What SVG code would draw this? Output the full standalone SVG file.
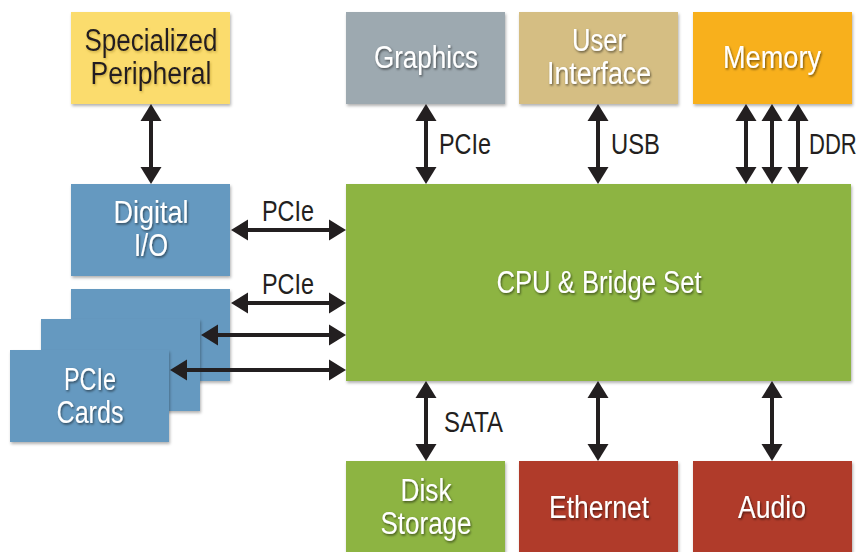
<svg xmlns="http://www.w3.org/2000/svg" width="861" height="552" viewBox="0 0 861 552">
<defs>
<filter id="bs" x="-10%" y="-10%" width="125%" height="130%">
<feDropShadow dx="1" dy="2" stdDeviation="1.5" flood-color="#000" flood-opacity="0.3"/>
</filter>
<filter id="ts" x="-10%" y="-20%" width="120%" height="150%">
<feDropShadow dx="1" dy="1.5" stdDeviation="1.2" flood-color="#000" flood-opacity="0.55"/>
</filter>
<filter id="tsy" x="-10%" y="-20%" width="120%" height="150%">
<feDropShadow dx="1" dy="1.5" stdDeviation="1.2" flood-color="#a08020" flood-opacity="0.5"/>
</filter>
<marker id="ah" markerUnits="userSpaceOnUse" markerWidth="18" markerHeight="22" refX="5" refY="11" orient="auto-start-reverse">
<path d="M0,0.5 L17,11 L0,21.5 z" fill="#231f20"/>
</marker>
<style>
.box{filter:url(#bs)}
.t{font-family:"Liberation Sans",Arial,sans-serif;font-size:31px;fill:#fff;text-anchor:middle;filter:url(#ts)}
.td{font-family:"Liberation Sans",Arial,sans-serif;font-size:31px;fill:#231f20;text-anchor:middle;filter:url(#tsy)}
.lbl{font-family:"Liberation Sans",Arial,sans-serif;font-size:29px;fill:#231f20}
.ar{stroke:#231f20;stroke-width:4;fill:none;marker-start:url(#ah);marker-end:url(#ah)}
</style>
</defs>
<rect width="861" height="552" fill="#fff"/>

<g id="specialized">
<rect class="box" x="71" y="12" width="159" height="92" fill="#fbdc6d"/>
<text class="td" x="151" y="51" textLength="133" lengthAdjust="spacingAndGlyphs">Specialized</text>
<text class="td" x="151" y="84" textLength="121" lengthAdjust="spacingAndGlyphs">Peripheral</text>
</g>
<g id="graphics">
<rect class="box" x="346" y="12" width="159" height="92" fill="#9da9b0"/>
<text class="t" x="426" y="68" textLength="104" lengthAdjust="spacingAndGlyphs">Graphics</text>
</g>
<g id="ui">
<rect class="box" x="519" y="12" width="159" height="92" fill="#d5be83"/>
<text class="t" x="599" y="51" textLength="54" lengthAdjust="spacingAndGlyphs">User</text>
<text class="t" x="599" y="84" textLength="104" lengthAdjust="spacingAndGlyphs">Interface</text>
</g>
<g id="memory">
<rect class="box" x="693" y="12" width="159" height="92" fill="#f8b01b"/>
<text class="t" x="772" y="68" textLength="98" lengthAdjust="spacingAndGlyphs">Memory</text>
</g>
<g id="digital">
<rect class="box" x="71" y="184" width="159" height="92" fill="#6599c0"/>
<text class="t" x="151" y="223" textLength="75" lengthAdjust="spacingAndGlyphs">Digital</text>
<text class="t" x="151" y="256" textLength="34" lengthAdjust="spacingAndGlyphs">I/O</text>
</g>
<g id="cards">
<rect class="box" x="71" y="289" width="159" height="92" fill="#6599c0"/>
<rect class="box" x="41" y="319" width="159" height="92" fill="#6599c0"/>
<rect class="box" x="10" y="350" width="159" height="92" fill="#6599c0"/>
<text class="t" x="90" y="390" textLength="52" lengthAdjust="spacingAndGlyphs">PCIe</text>
<text class="t" x="90" y="423" textLength="67" lengthAdjust="spacingAndGlyphs">Cards</text>
</g>
<g id="cpu">
<rect class="box" x="346" y="184" width="505" height="197" fill="#8db443"/>
<text class="t" x="599" y="293" textLength="205" lengthAdjust="spacingAndGlyphs">CPU &amp; Bridge Set</text>
</g>
<g id="disk">
<rect class="box" x="346" y="461" width="159" height="95" fill="#8db443"/>
<text class="t" x="426" y="501" textLength="51" lengthAdjust="spacingAndGlyphs">Disk</text>
<text class="t" x="426" y="534" textLength="91" lengthAdjust="spacingAndGlyphs">Storage</text>
</g>
<g id="ethernet">
<rect class="box" x="519" y="461" width="159" height="95" fill="#b03a2a"/>
<text class="t" x="599" y="518" textLength="100" lengthAdjust="spacingAndGlyphs">Ethernet</text>
</g>
<g id="audio">
<rect class="box" x="693" y="461" width="159" height="95" fill="#b03a2a"/>
<text class="t" x="772" y="518" textLength="68" lengthAdjust="spacingAndGlyphs">Audio</text>
</g>

<g id="connectors">
<line class="ar" x1="151" y1="116" x2="151" y2="172"/>
<line class="ar" x1="426" y1="116" x2="426" y2="172"/>
<line class="ar" x1="598" y1="116" x2="598" y2="172"/>
<line class="ar" x1="746" y1="116" x2="746" y2="172"/>
<line class="ar" x1="772" y1="116" x2="772" y2="172"/>
<line class="ar" x1="798" y1="116" x2="798" y2="172"/>
<line class="ar" x1="243" y1="230" x2="334" y2="230"/>
<line class="ar" x1="243" y1="303" x2="334" y2="303"/>
<line class="ar" x1="213" y1="335" x2="334" y2="335"/>
<line class="ar" x1="182" y1="370" x2="334" y2="370"/>
<line class="ar" x1="426" y1="393" x2="426" y2="449"/>
<line class="ar" x1="598" y1="393" x2="598" y2="449"/>
<line class="ar" x1="772" y1="393" x2="772" y2="449"/>
<text class="lbl" x="439" y="154" textLength="52" lengthAdjust="spacingAndGlyphs">PCIe</text>
<text class="lbl" x="611" y="154" textLength="49" lengthAdjust="spacingAndGlyphs">USB</text>
<text class="lbl" transform="translate(809,154) scale(0.76,1)">DDR</text>
<text class="lbl" x="262" y="221" textLength="52" lengthAdjust="spacingAndGlyphs">PCIe</text>
<text class="lbl" x="262" y="294" textLength="52" lengthAdjust="spacingAndGlyphs">PCIe</text>
<text class="lbl" x="444" y="432" textLength="59" lengthAdjust="spacingAndGlyphs">SATA</text>
</g>
</svg>
